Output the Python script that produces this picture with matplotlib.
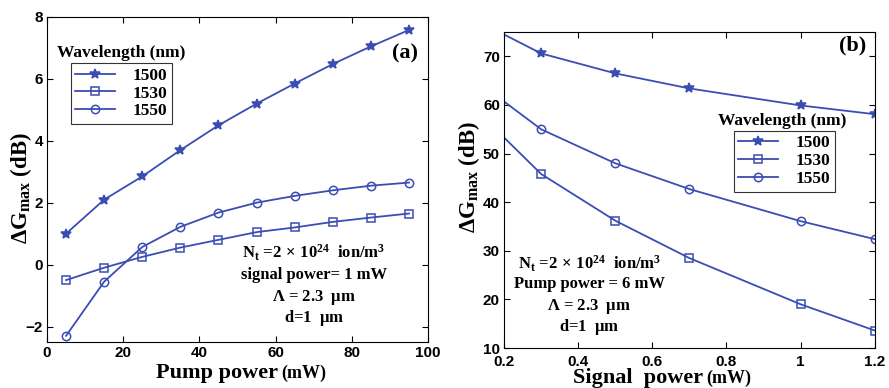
import numpy as np
import matplotlib
matplotlib.use('Agg')
import matplotlib.pyplot as plt

plt.rcParams['font.family'] = ['Liberation Sans']
plt.rcParams['font.weight'] = 'bold'
plt.rcParams['mathtext.fontset'] = 'custom'
plt.rcParams['mathtext.rm'] = 'Liberation Serif:bold'
plt.rcParams['mathtext.bf'] = 'Liberation Serif:bold'
plt.rcParams['mathtext.it'] = 'Liberation Serif:bold'
plt.rcParams['mathtext.default'] = 'rm'

# (a) gain vs pump power
pump = [5, 15, 25, 35, 45, 55, 65, 75, 85, 95]
ga_1500 = [1.0, 2.1, 2.85, 3.7, 4.5, 5.2, 5.85, 6.48, 7.05, 7.58]
ga_1530 = [-0.5, -0.1, 0.25, 0.55, 0.8, 1.05, 1.2, 1.38, 1.52, 1.65]
ga_1550 = [-2.3, -0.55, 0.57, 1.22, 1.68, 2.0, 2.22, 2.4, 2.55, 2.65]

# (b) gain vs signal power
signal = [0.2, 0.3, 0.5, 0.7, 1.0, 1.2]
gb_1500 = [74.5, 70.6, 66.5, 63.4, 59.9, 58.1]
gb_1530 = [53.3, 45.8, 36.2, 28.5, 19.0, 13.6]
gb_1550 = [60.7, 55.0, 48.0, 42.7, 36.1, 32.4]

wavelengths = ['1500', '1530', '1550']
markers = ['*', 's', 'o']
col = '#3a4db3'

serif = 'Liberation Serif'

fig = plt.figure(figsize=(8.89, 3.88), dpi=100)
axa = fig.add_axes([0.0529, 0.1186, 0.4286, 0.8376])
axb = fig.add_axes([0.567, 0.103, 0.417, 0.8144])

def style(ax, xpad=3):
    ax.tick_params(direction='in', top=True, right=True, length=4, width=0.8,
                   labelsize=11, pad=3)
    ax.tick_params(axis='x', pad=xpad)
    for s in ax.spines.values():
        s.set_linewidth(0.8)

def draw_legend(ax, x, y):
    leg = ax.legend(loc='upper left', bbox_to_anchor=(x, y), frameon=True,
                    fancybox=False, edgecolor='black', handlelength=2.3,
                    prop={'family': serif, 'weight': 'bold', 'size': 12.5},
                    borderpad=0.25, labelspacing=0.1, handletextpad=1.0,
                    borderaxespad=0)
    leg.get_frame().set_linewidth(0.8)

def notes(ax, x, ys, second):
    lines = [r'N$_{\rm t}$ =2$\,\times\,$10$^{24}$  ion/m$^3$', second,
             r'$\Lambda$ = 2.3  $\mu$m', r'd=1  $\mu$m']
    for t, y in zip(lines, ys):
        ax.text(x, y, t, transform=ax.transAxes, family=serif, weight='bold',
                fontsize=12, ha='center', va='center')

def xlab(ax, main, split, y):
    ax.text(split, y, main, transform=ax.transAxes, family=serif, weight='bold',
            fontsize=16, ha='right', va='center')
    ax.text(split + 0.01, y, '(mW)', transform=ax.transAxes, family=serif,
            weight='bold', fontsize=13, ha='left', va='center')

def ylab(ax, x, y):
    ax.text(x, y, r'$\Delta$G$_{\rm max}$ (dB)', transform=ax.transAxes,
            family=serif, fontsize=16.5, rotation=90, ha='center', va='center')

# panel (a)
for y, m, w in zip([ga_1500, ga_1530, ga_1550], markers, wavelengths):
    ms = 7 if m == '*' else 6
    axa.plot(pump, y, color=col, lw=1.3, marker=m, ms=ms, mfc='none' if m != '*' else col,
             mec=col, mew=1.1, label=w)
axa.set_xlim(0, 100)
axa.set_ylim(-2.5, 8)
axa.set_xticks(np.arange(0, 101, 20))
axa.set_yticks(np.arange(-2, 9, 2))
style(axa)
draw_legend(axa, 0.063, 0.858)
axa.text(0.194, 0.889, 'Wavelength (nm)', transform=axa.transAxes, family=serif,
         weight='bold', fontsize=12.5, ha='center', va='center')
axa.text(0.94, 0.889, '(a)', transform=axa.transAxes, family=serif, weight='bold',
         fontsize=16, ha='center', va='center')
notes(axa, 0.70, [0.274, 0.206, 0.138, 0.074], 'signal power= 1 mW')
ylab(axa, -0.068, 0.474)
xlab(axa, 'Pump power', 0.606, -0.095)

# panel (b)
for y, m, w in zip([gb_1500, gb_1530, gb_1550], markers, wavelengths):
    ms = 7 if m == '*' else 6
    axb.plot(signal, y, color=col, lw=1.3, marker=m, ms=ms, markevery=slice(1, None),
             mfc='none' if m != '*' else col, mec=col, mew=1.1, label=w)
axb.set_xlim(0.2, 1.2)
axb.set_ylim(10, 75)
axb.set_xticks([0.2, 0.4, 0.6, 0.8, 1.0, 1.2])
axb.set_xticklabels(['0.2', '0.4', '0.6', '0.8', '1', '1.2'])
axb.set_yticks(np.arange(10, 71, 10))
style(axb, xpad=5)
draw_legend(axb, 0.62, 0.687)
axb.text(0.749, 0.72, 'Wavelength (nm)', transform=axb.transAxes, family=serif,
         weight='bold', fontsize=12.5, ha='center', va='center')
axb.text(0.94, 0.959, '(b)', transform=axb.transAxes, family=serif, weight='bold',
         fontsize=16, ha='center', va='center')
notes(axb, 0.23, [0.266, 0.203, 0.13, 0.066], 'Pump power = 6 mW')
ylab(axb, -0.094, 0.54)
xlab(axb, 'Signal  power', 0.536, -0.095)

fig.savefig('out.png', dpi=100)
